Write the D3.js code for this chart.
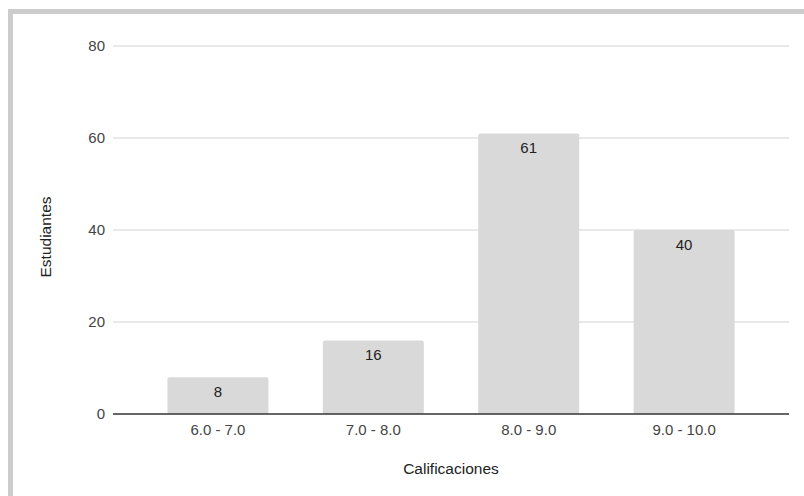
<!DOCTYPE html>
<html>
<head>
<meta charset="utf-8">
<title>Calificaciones</title>
<style>
  body { margin: 0; padding: 0; background: #fff; }
  svg { display: block; font-family: "Liberation Sans", Arial, sans-serif; }
</style>
</head>
<body>
<div id="chart"></div>
<script src="https://d3js.org/d3.v7.min.js"></script>
<script>
// data
var categories = ["6.0 - 7.0", "7.0 - 8.0", "8.0 - 9.0", "9.0 - 10.0"];
var students = [8, 16, 61, 40];
var yTicks = [0, 20, 40, 60, 80];

var width = 804, height = 496;
// note: "top" is taken by window.top, so use plot* names
var plotLeft = 113, plotRight = 789, plotTop = 46, plotBottom = 414;

var svg = d3.select("#chart").append("svg")
    .attr("width", width)
    .attr("height", height);

// frame (top and left only)
svg.append("rect").attr("x", 8).attr("y", 9).attr("width", width - 8).attr("height", 5).attr("fill", "#cccccc");
svg.append("rect").attr("x", 8).attr("y", 9).attr("width", 5).attr("height", height - 9).attr("fill", "#cccccc");

var x = d3.scaleBand()
    .domain(categories)
    .range([plotLeft, plotRight])
    .padding(0.35);

var y = d3.scaleLinear()
    .domain([0, 80])
    .range([plotBottom, plotTop]);

// gridlines
svg.append("g")
  .selectAll("line")
  .data(yTicks.filter(function(d) { return d > 0; }))
  .join("line")
    .attr("x1", plotLeft)
    .attr("x2", plotRight)
    .attr("y1", function(d) { return y(d); })
    .attr("y2", function(d) { return y(d); })
    .attr("stroke", "#e2e2e2")
    .attr("stroke-width", 1.5);

// y tick labels
var yAxis = d3.axisLeft(y).tickValues(yTicks).tickSize(0).tickPadding(8);
var gy = svg.append("g").attr("transform", "translate(" + plotLeft + ",0)").call(yAxis);
gy.select(".domain").remove();
gy.selectAll("text").attr("font-size", 15).attr("fill", "#444").style("font-family", "'Liberation Sans', Arial, sans-serif");

// bars
svg.append("g")
  .selectAll("rect")
  .data(students)
  .join("rect")
    .attr("x", function(d, i) { return x(categories[i]); })
    .attr("y", function(d) { return y(d); })
    .attr("width", x.bandwidth())
    .attr("height", function(d) { return y(0) - y(d); })
    .attr("rx", 2)
    .attr("fill", "#d9d9d9");

// value labels
svg.append("g")
  .selectAll("text")
  .data(students)
  .join("text")
    .attr("x", function(d, i) { return x(categories[i]) + x.bandwidth() / 2; })
    .attr("y", function(d) { return y(d) + 20; })
    .attr("text-anchor", "middle")
    .attr("font-size", 15)
    .attr("fill", "#222")
    .text(function(d) { return d; });

// x axis
var xAxis = d3.axisBottom(x).tickSize(0).tickPadding(10);
var gx = svg.append("g").attr("transform", "translate(0," + plotBottom + ")").call(xAxis);
gx.select(".domain").attr("stroke", "#333").attr("stroke-width", 1.3).attr("d", "M" + plotLeft + ",0H" + plotRight);
gx.selectAll("text").attr("font-size", 15).attr("fill", "#444").style("font-family", "'Liberation Sans', Arial, sans-serif");

// axis titles
svg.append("text")
    .attr("x", 451)
    .attr("y", 474)
    .attr("text-anchor", "middle")
    .attr("font-size", 15.5)
    .attr("fill", "#222")
    .text("Calificaciones");

svg.append("text")
    .attr("transform", "translate(51,237) rotate(-90)")
    .attr("text-anchor", "middle")
    .attr("font-size", 15.5)
    .attr("fill", "#222")
    .text("Estudiantes");
</script>
</body>
</html>
